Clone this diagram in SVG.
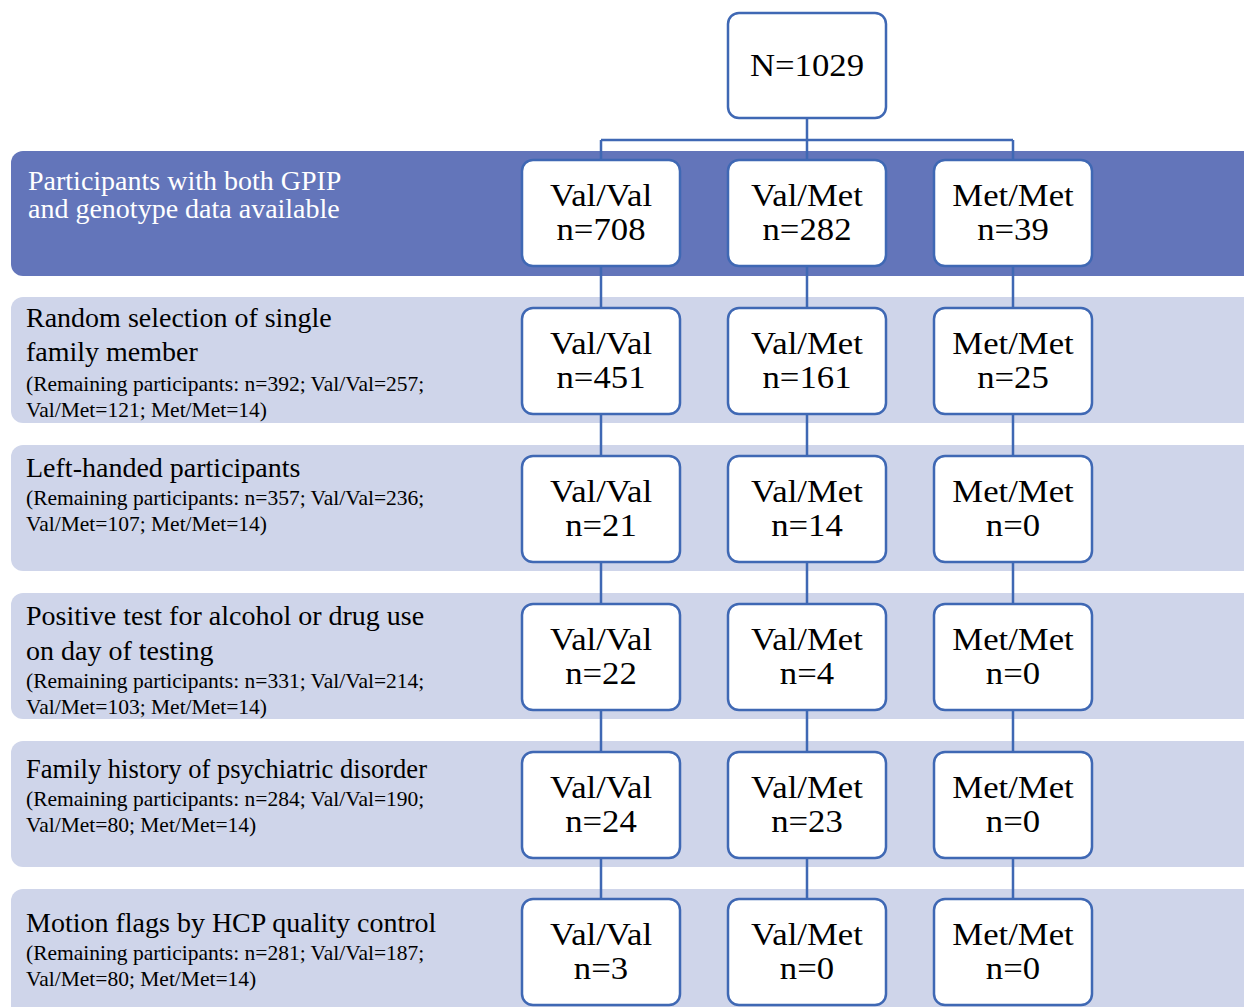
<svg xmlns="http://www.w3.org/2000/svg" width="1244" height="1007" viewBox="0 0 1244 1007">
<style>
.band{fill:#cfd5ea}
.band1{fill:#6375ba}
.box{fill:#ffffff;stroke:#3f68b4;stroke-width:2.5}
.con{fill:none;stroke:#3f68b4;stroke-width:2.5}
text{font-family:"Liberation Serif","Times New Roman",serif;fill:#000}
.bt{font-size:32px;text-anchor:middle}
.lab{font-size:28px}
.wlab{font-size:28px;fill:#ffffff}
.sm{font-size:21.5px}
</style>
<rect width="1244" height="1007" fill="#ffffff"/>
<g id="bands">
<rect class="band1" x="11" y="151" width="1250" height="125" rx="12"/>
<rect class="band" x="11" y="297" width="1250" height="126" rx="12"/>
<rect class="band" x="11" y="445" width="1250" height="126" rx="12"/>
<rect class="band" x="11" y="593" width="1250" height="126" rx="12"/>
<rect class="band" x="11" y="741" width="1250" height="126" rx="12"/>
<rect class="band" x="11" y="889" width="1250" height="140" rx="12"/>
</g>
<g id="labels">
<text class="wlab" x="28" y="190">Participants with both GPIP</text>
<text class="wlab" x="28" y="218">and genotype data available</text>
<text class="lab" x="26" y="327">Random selection of single</text>
<text class="lab" x="26" y="361">family member</text>
<text class="sm" x="26" y="391">(Remaining participants: n=392; Val/Val=257;</text>
<text class="sm" x="26" y="417">Val/Met=121; Met/Met=14)</text>
<text class="lab" x="26" y="477">Left-handed participants</text>
<text class="sm" x="26" y="505">(Remaining participants: n=357; Val/Val=236;</text>
<text class="sm" x="26" y="531">Val/Met=107; Met/Met=14)</text>
<text class="lab" x="26" y="625">Positive test for alcohol or drug use</text>
<text class="lab" x="26" y="660">on day of testing</text>
<text class="sm" x="26" y="688">(Remaining participants: n=331; Val/Val=214;</text>
<text class="sm" x="26" y="714">Val/Met=103; Met/Met=14)</text>
<text class="lab" x="26" y="778" textLength="401" lengthAdjust="spacingAndGlyphs">Family history of psychiatric disorder</text>
<text class="sm" x="26" y="806">(Remaining participants: n=284; Val/Val=190;</text>
<text class="sm" x="26" y="832">Val/Met=80; Met/Met=14)</text>
<text class="lab" x="26" y="932">Motion flags by HCP quality control</text>
<text class="sm" x="26" y="960">(Remaining participants: n=281; Val/Val=187;</text>
<text class="sm" x="26" y="986">Val/Met=80; Met/Met=14)</text>
</g>
<g id="connectors">
<path class="con" d="M807 118V140M601 140H1013M601 140V160M807 140V160M1013 140V160"/>
<path class="con" d="M601 266V308M807 266V308M1013 266V308"/>
<path class="con" d="M601 414V456M807 414V456M1013 414V456"/>
<path class="con" d="M601 562V604M807 562V604M1013 562V604"/>
<path class="con" d="M601 710V752M807 710V752M1013 710V752"/>
<path class="con" d="M601 858V899M807 858V899M1013 858V899"/>
</g>
<g id="n-total"><rect class="box" x="728" y="13" width="158" height="105" rx="11"/><text class="bt" transform="matrix(1.085 0 0 1 807 76)">N=1029</text></g>
<g id="r1-vv"><rect class="box" x="522" y="160" width="158" height="106" rx="11"/><text class="bt" transform="matrix(1.085 0 0 1 601 206)">Val/Val</text><text class="bt" transform="matrix(1.085 0 0 1 601 240)">n=708</text></g>
<g id="r1-vm"><rect class="box" x="728" y="160" width="158" height="106" rx="11"/><text class="bt" transform="matrix(1.085 0 0 1 807 206)">Val/Met</text><text class="bt" transform="matrix(1.085 0 0 1 807 240)">n=282</text></g>
<g id="r1-mm"><rect class="box" x="934" y="160" width="158" height="106" rx="11"/><text class="bt" transform="matrix(1.085 0 0 1 1013 206)">Met/Met</text><text class="bt" transform="matrix(1.085 0 0 1 1013 240)">n=39</text></g>
<g id="r2-vv"><rect class="box" x="522" y="308" width="158" height="106" rx="11"/><text class="bt" transform="matrix(1.085 0 0 1 601 354)">Val/Val</text><text class="bt" transform="matrix(1.085 0 0 1 601 388)">n=451</text></g>
<g id="r2-vm"><rect class="box" x="728" y="308" width="158" height="106" rx="11"/><text class="bt" transform="matrix(1.085 0 0 1 807 354)">Val/Met</text><text class="bt" transform="matrix(1.085 0 0 1 807 388)">n=161</text></g>
<g id="r2-mm"><rect class="box" x="934" y="308" width="158" height="106" rx="11"/><text class="bt" transform="matrix(1.085 0 0 1 1013 354)">Met/Met</text><text class="bt" transform="matrix(1.085 0 0 1 1013 388)">n=25</text></g>
<g id="r3-vv"><rect class="box" x="522" y="456" width="158" height="106" rx="11"/><text class="bt" transform="matrix(1.085 0 0 1 601 502)">Val/Val</text><text class="bt" transform="matrix(1.085 0 0 1 601 536)">n=21</text></g>
<g id="r3-vm"><rect class="box" x="728" y="456" width="158" height="106" rx="11"/><text class="bt" transform="matrix(1.085 0 0 1 807 502)">Val/Met</text><text class="bt" transform="matrix(1.085 0 0 1 807 536)">n=14</text></g>
<g id="r3-mm"><rect class="box" x="934" y="456" width="158" height="106" rx="11"/><text class="bt" transform="matrix(1.085 0 0 1 1013 502)">Met/Met</text><text class="bt" transform="matrix(1.085 0 0 1 1013 536)">n=0</text></g>
<g id="r4-vv"><rect class="box" x="522" y="604" width="158" height="106" rx="11"/><text class="bt" transform="matrix(1.085 0 0 1 601 650)">Val/Val</text><text class="bt" transform="matrix(1.085 0 0 1 601 684)">n=22</text></g>
<g id="r4-vm"><rect class="box" x="728" y="604" width="158" height="106" rx="11"/><text class="bt" transform="matrix(1.085 0 0 1 807 650)">Val/Met</text><text class="bt" transform="matrix(1.085 0 0 1 807 684)">n=4</text></g>
<g id="r4-mm"><rect class="box" x="934" y="604" width="158" height="106" rx="11"/><text class="bt" transform="matrix(1.085 0 0 1 1013 650)">Met/Met</text><text class="bt" transform="matrix(1.085 0 0 1 1013 684)">n=0</text></g>
<g id="r5-vv"><rect class="box" x="522" y="752" width="158" height="106" rx="11"/><text class="bt" transform="matrix(1.085 0 0 1 601 798)">Val/Val</text><text class="bt" transform="matrix(1.085 0 0 1 601 832)">n=24</text></g>
<g id="r5-vm"><rect class="box" x="728" y="752" width="158" height="106" rx="11"/><text class="bt" transform="matrix(1.085 0 0 1 807 798)">Val/Met</text><text class="bt" transform="matrix(1.085 0 0 1 807 832)">n=23</text></g>
<g id="r5-mm"><rect class="box" x="934" y="752" width="158" height="106" rx="11"/><text class="bt" transform="matrix(1.085 0 0 1 1013 798)">Met/Met</text><text class="bt" transform="matrix(1.085 0 0 1 1013 832)">n=0</text></g>
<g id="r6-vv"><rect class="box" x="522" y="899" width="158" height="106" rx="11"/><text class="bt" transform="matrix(1.085 0 0 1 601 945)">Val/Val</text><text class="bt" transform="matrix(1.085 0 0 1 601 979)">n=3</text></g>
<g id="r6-vm"><rect class="box" x="728" y="899" width="158" height="106" rx="11"/><text class="bt" transform="matrix(1.085 0 0 1 807 945)">Val/Met</text><text class="bt" transform="matrix(1.085 0 0 1 807 979)">n=0</text></g>
<g id="r6-mm"><rect class="box" x="934" y="899" width="158" height="106" rx="11"/><text class="bt" transform="matrix(1.085 0 0 1 1013 945)">Met/Met</text><text class="bt" transform="matrix(1.085 0 0 1 1013 979)">n=0</text></g>
</svg>
